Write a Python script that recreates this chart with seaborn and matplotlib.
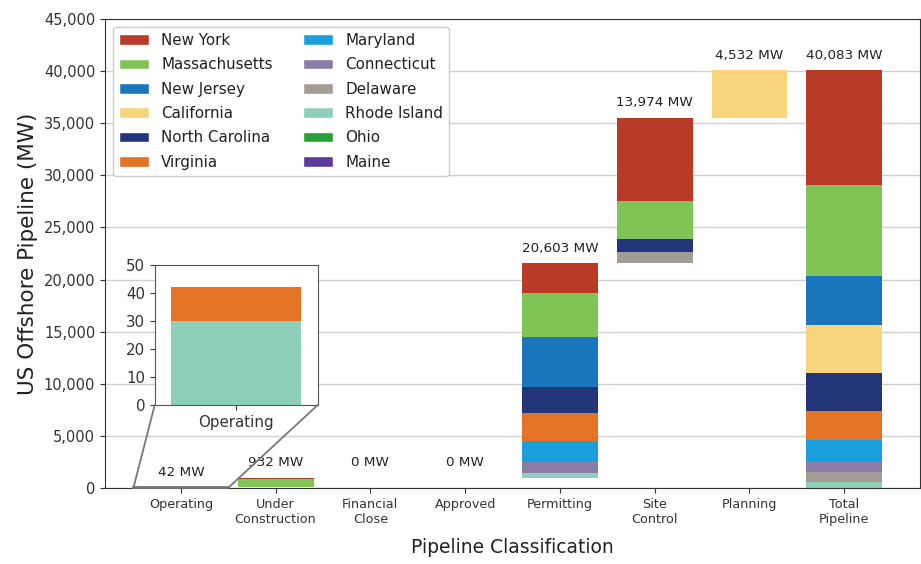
import numpy as np
import pandas as pd
import seaborn as sns
import matplotlib.pyplot as plt
from matplotlib.patches import Patch, Rectangle, ConnectionPatch
from matplotlib.ticker import FuncFormatter

stages = ['Operating', 'Under\nConstruction', 'Financial\nClose', 'Approved',
          'Permitting', 'Site\nControl', 'Planning']
total_label = 'Total\nPipeline'

# MW per state in each pipeline stage (same order as stages)
new_york = [0, 132, 0, 0, 2870, 7985, 0]
massachusetts = [0, 800, 0, 0, 4263, 3674, 0]
new_jersey = [0, 0, 0, 0, 4770, 0, 0]
california = [0, 0, 0, 0, 0, 0, 4532]
north_carolina = [0, 0, 0, 0, 2450, 1275, 0]
virginia = [12, 0, 0, 0, 2700, 0, 0]
maryland = [0, 0, 0, 0, 2020, 0, 0]
connecticut = [0, 0, 0, 0, 1030, 0, 0]
delaware = [0, 0, 0, 0, 0, 1040, 0]
rhode_island = [30, 0, 0, 0, 500, 0, 0]
ohio = [0, 0, 0, 0, 0, 0, 0]
maine = [0, 0, 0, 0, 0, 0, 0]

states = ['New York', 'Massachusetts', 'New Jersey', 'California', 'North Carolina',
          'Virginia', 'Maryland', 'Connecticut', 'Delaware', 'Rhode Island',
          'Ohio', 'Maine']
colors = ['#b93a26', '#80c456', '#1a75bb', '#f8d47c', '#24367a', '#e57326',
          '#19a0dc', '#8c7ca8', '#a29d94', '#8dcfb8', '#28a03c', '#5d3a9b']
series = [new_york, massachusetts, new_jersey, california, north_carolina,
          virginia, maryland, connecticut, delaware, rhode_island, ohio, maine]

df = pd.DataFrame(np.array(series).T, index=stages, columns=states)
df.loc[total_label] = df.sum()
categories = list(df.index)

# waterfall: each stage starts where the previous one ended, total starts at 0
stage_totals = df.loc[stages].sum(axis=1)
offsets = list(np.concatenate([[0], np.cumsum(stage_totals.values)[:-1]])) + [0]
offsets = pd.Series(offsets, index=categories, dtype=float)
bar_totals = df.sum(axis=1)

sns.set_style('ticks')
plt.rcParams['axes.edgecolor'] = '#333333'
plt.rcParams['xtick.color'] = '#333333'
plt.rcParams['ytick.color'] = '#333333'
plt.rcParams['text.color'] = '#222222'
plt.rcParams['axes.labelcolor'] = '#222222'

fig = plt.figure(figsize=(9.21, 5.64), dpi=100)
ax = fig.add_axes([0.114, 0.135, 0.885, 0.831])

# stack from the bottom: reverse of the legend order
bottom = offsets.copy()
for state, color in reversed(list(zip(states, colors))):
    vals = df[state]
    sns.barplot(x=categories, y=vals.values, order=categories, bottom=bottom.values,
                color=color, saturation=1, width=0.8, errorbar=None,
                linewidth=0, ax=ax)
    bottom = bottom + vals

for i, cat in enumerate(categories):
    top = offsets[cat] + bar_totals[cat]
    ax.annotate(f'{int(bar_totals[cat]):,} MW', (i, top), xytext=(0, 6),
                textcoords='offset points', ha='center', va='bottom', fontsize=9.7)

ax.set_xlim(-0.8, 7.8)
ax.set_ylim(0, 45000)
ax.set_yticks(range(0, 45001, 5000))
ax.yaxis.set_major_formatter(FuncFormatter(lambda v, p: f'{int(v):,}'))
ax.yaxis.grid(True, color='#d0d0d0', linewidth=1)
ax.set_axisbelow(True)
ax.tick_params(axis='y', labelsize=10.5)
ax.tick_params(axis='x', labelsize=9.2)
ax.set_xlabel('Pipeline Classification', fontsize=13.5, labelpad=9)
ax.set_ylabel('US Offshore Pipeline (MW)', fontsize=15.5)

handles = [Patch(facecolor=c, label=s) for s, c in zip(states, colors)]
ax.legend(handles=handles, loc='upper left', ncol=2, fontsize=10.9,
          labelspacing=0.62, frameon=True, edgecolor='#cccccc', framealpha=1)

# zoomed inset for the operating bar
axins = fig.add_axes([0.168, 0.282, 0.177, 0.248])
bottom_in = 0.0
for state, color in reversed(list(zip(states, colors))):
    v = df.loc['Operating', state]
    sns.barplot(x=['Operating'], y=[v], bottom=[bottom_in], color=color,
                saturation=1, width=0.8, errorbar=None, linewidth=0, ax=axins)
    bottom_in += v
axins.set_xlim(-0.5, 0.5)
axins.set_ylim(0, 50)
axins.set_yticks(range(0, 51, 10))
axins.tick_params(labelsize=10.8)
axins.set_facecolor('white')
for sp in axins.spines.values():
    sp.set_color('#555555')

ax.add_patch(Rectangle((-0.5, 0), 1, 50, fill=False, edgecolor='#777777',
                       linewidth=1.3, zorder=5, clip_on=False))
for xa, xd in [(0, -0.5), (1, 0.5)]:
    con = ConnectionPatch(xyA=(xa, 0), coordsA=axins.transAxes,
                          xyB=(xd, 0), coordsB=ax.transData,
                          color='#777777', linewidth=1.3)
    fig.add_artist(con)

fig.savefig('out.png', dpi=100)
